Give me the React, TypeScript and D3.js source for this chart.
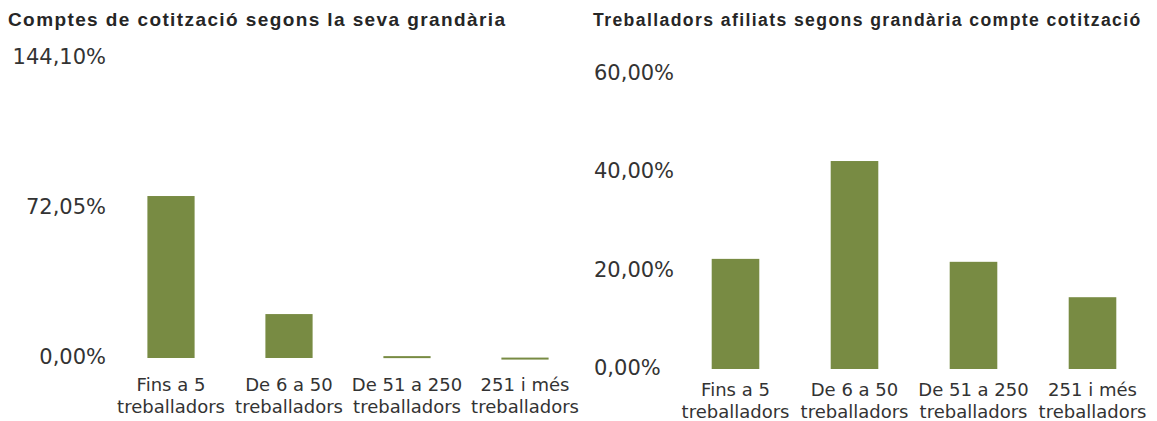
import React from "react";
import * as d3 from "d3";

const categoryLines = [
  ["Fins a 5", "treballadors"],
  ["De 6 a 50", "treballadors"],
  ["De 51 a 250", "treballadors"],
  ["251 i més", "treballadors"],
];
const categories = categoryLines.map((c) => c.join(" "));

const accountShare = [77.8, 21.1, 0.9, 0.2];
const workerShare = [22.4, 42.3, 21.8, 14.6];

const accountTicks = [0, 72.05, 144.1];
const workerTicks = [0, 20, 40, 60];

const accountTitle = "Comptes de cotització segons la seva grandària";
const workerTitle = "Treballadors afiliats segons grandària compte cotització";

const BAR = "#788b43";
const INK = "#262626";
const LABEL = "#333";
const fmt = d3.formatLocale({ decimal: ",", thousands: ".", grouping: [3], currency: ["", "€"] }).format(".2f");
const pct = (v: number) => fmt(v) + "%";

function Panel(props: {
  title: string;
  titleSize: number;
  titleX: number;
  values: number[];
  ticks: number[];
  yMax: number;
  y0: number;
  y1: number;
  x0: number;
  x1: number;
  tickX: number;
  tickAnchor: string;
  labelY: number;
}) {
  const x = d3
    .scaleBand<string>()
    .domain(categories)
    .range([props.x0, props.x1])
    .paddingInner(0.6)
    .paddingOuter(0.3);
  const y = d3.scaleLinear().domain([0, props.yMax]).range([props.y0, props.y1]);

  return (
    <g>
      <text
        x={props.titleX}
        y={26}
        fontFamily="'Liberation Sans', Arial, sans-serif"
        fontWeight="bold"
        fontSize={props.titleSize}
        letterSpacing={1.4}
        fill={INK}
      >
        {props.title}
      </text>
      {props.ticks.map((t) => (
        <text
          key={t}
          x={props.tickX}
          y={y(t) - 1}
          dominantBaseline="central"
          textAnchor={props.tickAnchor}
          fontFamily="'DejaVu Sans', sans-serif"
          fontSize={21}
          fill={LABEL}
        >
          {pct(t)}
        </text>
      ))}
      {props.values.map((v, i) => (
        <rect
          key={i}
          x={x(categories[i])}
          y={y(v)}
          width={x.bandwidth()}
          height={Math.max(y(0) - y(v), 2)}
          fill={BAR}
        />
      ))}
      {categoryLines.map((lines, i) => (
        <text
          key={i}
          textAnchor="middle"
          fontFamily="'DejaVu Sans', sans-serif"
          fontSize={18}
          fill={LABEL}
        >
          {lines.map((l, j) => (
            <tspan key={j} x={(x(categories[i]) ?? 0) + x.bandwidth() / 2} y={props.labelY + j * 22}>
              {l}
            </tspan>
          ))}
        </text>
      ))}
    </g>
  );
}

export default function App() {
  return (
    <svg
      width={1157}
      height={421}
      style={{ position: "absolute", left: 0, top: 0, background: "#fff" }}
    >
      <Panel
        title={accountTitle}
        titleSize={19}
        titleX={8}
        values={accountShare}
        ticks={accountTicks}
        yMax={144.1}
        y0={358}
        y1={58}
        x0={112}
        x1={584}
        tickX={106}
        tickAnchor="end"
        labelY={391}
      />
      <Panel
        title={workerTitle}
        titleSize={17.6}
        titleX={593}
        values={workerShare}
        ticks={workerTicks}
        yMax={60}
        y0={369}
        y1={74}
        x0={676}
        x1={1152}
        tickX={594}
        tickAnchor="start"
        labelY={396}
      />
    </svg>
  );
}
